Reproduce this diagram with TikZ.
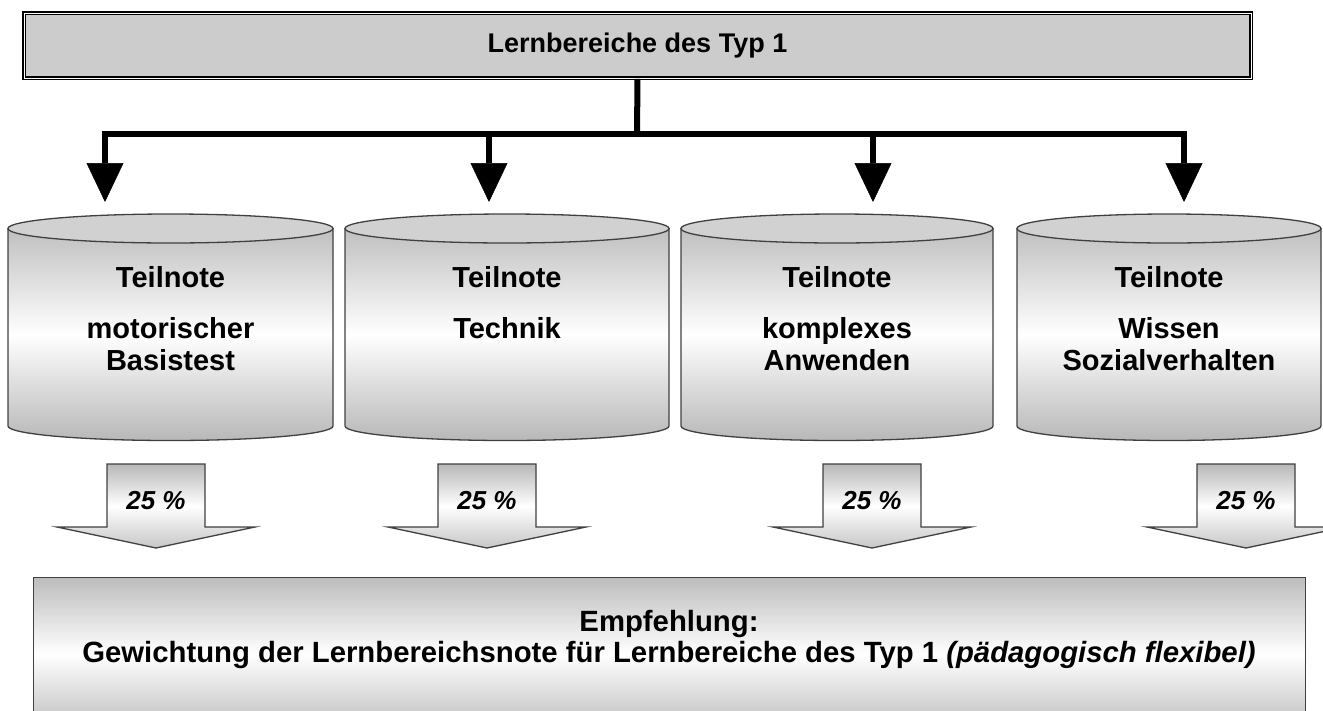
\documentclass[tikz,border=0pt]{standalone}
\usepackage{fontspec}
\setmainfont{Liberation Sans}
\usepackage{tikz}
\usetikzlibrary{arrows.meta, positioning}
\tikzset{
  titlebox/.style={rectangle, draw=black, fill=black!20, double=white, double distance=1pt, line width=1.8pt, font=\bfseries\fontsize{27}{30}\selectfont},
  drum/.style={draw=black!75, line width=1.3pt, top color=black!25, bottom color=black!28, middle color=white},
  drumtop/.style={draw=black!75, line width=1.3pt, fill=black!18},
  drumtext/.style={font=\bfseries\fontsize{29}{32}\selectfont, align=center, inner sep=0pt, anchor=north},
  bus/.style={line width=6pt},
  busarr/.style={bus, -{Triangle[width=37pt, length=39pt, line width=0.5pt]}},
  fatarrow/.style={draw=black!75, line width=1.3pt, top color=black!28, bottom color=black!22, middle color=white},
  pct/.style={font=\bfseries\itshape\fontsize{26}{30}\selectfont, inner sep=0pt},
  recbox/.style={rectangle, draw=black!75, line width=1.3pt, top color=black!26, bottom color=black!26, middle color=white},
  rectext/.style={font=\bfseries\fontsize{29.3}{31}\selectfont, align=center, inner sep=0pt},
}

\begin{document}
\begin{tikzpicture}[x=1pt, y=-1pt]
  \useasboundingbox (0,0) rectangle (1323,710);
  \clip (0,0) rectangle (1323,710);

  % Title
  \node[titlebox, minimum width=1227pt, minimum height=65pt] (title) at (637.5,45.5) {Lernbereiche des Typ 1};

  % Distribution bus
  \coordinate (hub) at (637,133.5);
  \coordinate (in1) at (105,202);
  \coordinate (in2) at (489,202);
  \coordinate (in3) at (873,202);
  \coordinate (in4) at (1184,202);
  \draw[bus] (title.south) -- (hub);
  \foreach \k in {1,...,4}
    \draw[busarr] (hub) -| (in\k);

  % Cylinders
  \foreach \l/\r/\nm/\txt in {8/333/motor/{motorischer\\Basistest}, 345/669/technik/{Technik},
      681/993/anwenden/{komplexes\\Anwenden}, 1017/1321/wissen/{Wissen\\Sozialverhalten}} {
    \pgfmathsetmacro\cx{(\l+\r)/2}
    \pgfmathsetmacro\rx{(\r-\l)/2}
    \path[drum] (\l,228.5) -- (\l,426) arc[start angle=180, end angle=0, x radius=\rx, y radius=14.5] -- (\r,228.5) -- cycle;
    \path[drumtop] (\cx,228.5) ellipse[x radius=\rx, y radius=14.5];
    \node[drumtext] (\nm) at (\cx,266) {Teilnote\\[19pt]\txt};
  }

  % Weight arrows
  \foreach \cx/\nm in {156/w1, 487/w2, 872/w3, 1246/w4} {
    \path[fatarrow] ({\cx-49},464) -- ({\cx+49},464) -- ({\cx+49},527) -- ({\cx+99},527)
      -- (\cx,548) -- ({\cx-99},527) -- ({\cx-49},527) -- cycle;
    \node[pct] (\nm) at (\cx,501) {25 \%};
  }

  % Recommendation
  \node[recbox, minimum width=1272pt, minimum height=153pt, anchor=north west] (rec) at (33,577) {};
  \node[rectext, anchor=north] (rectxt) at (669,610) {Empfehlung:\\Gewichtung der Lernbereichsnote f\"ur Lernbereiche des Typ 1 \textit{(p\"adagogisch flexibel)}};
\end{tikzpicture}
\end{document}
